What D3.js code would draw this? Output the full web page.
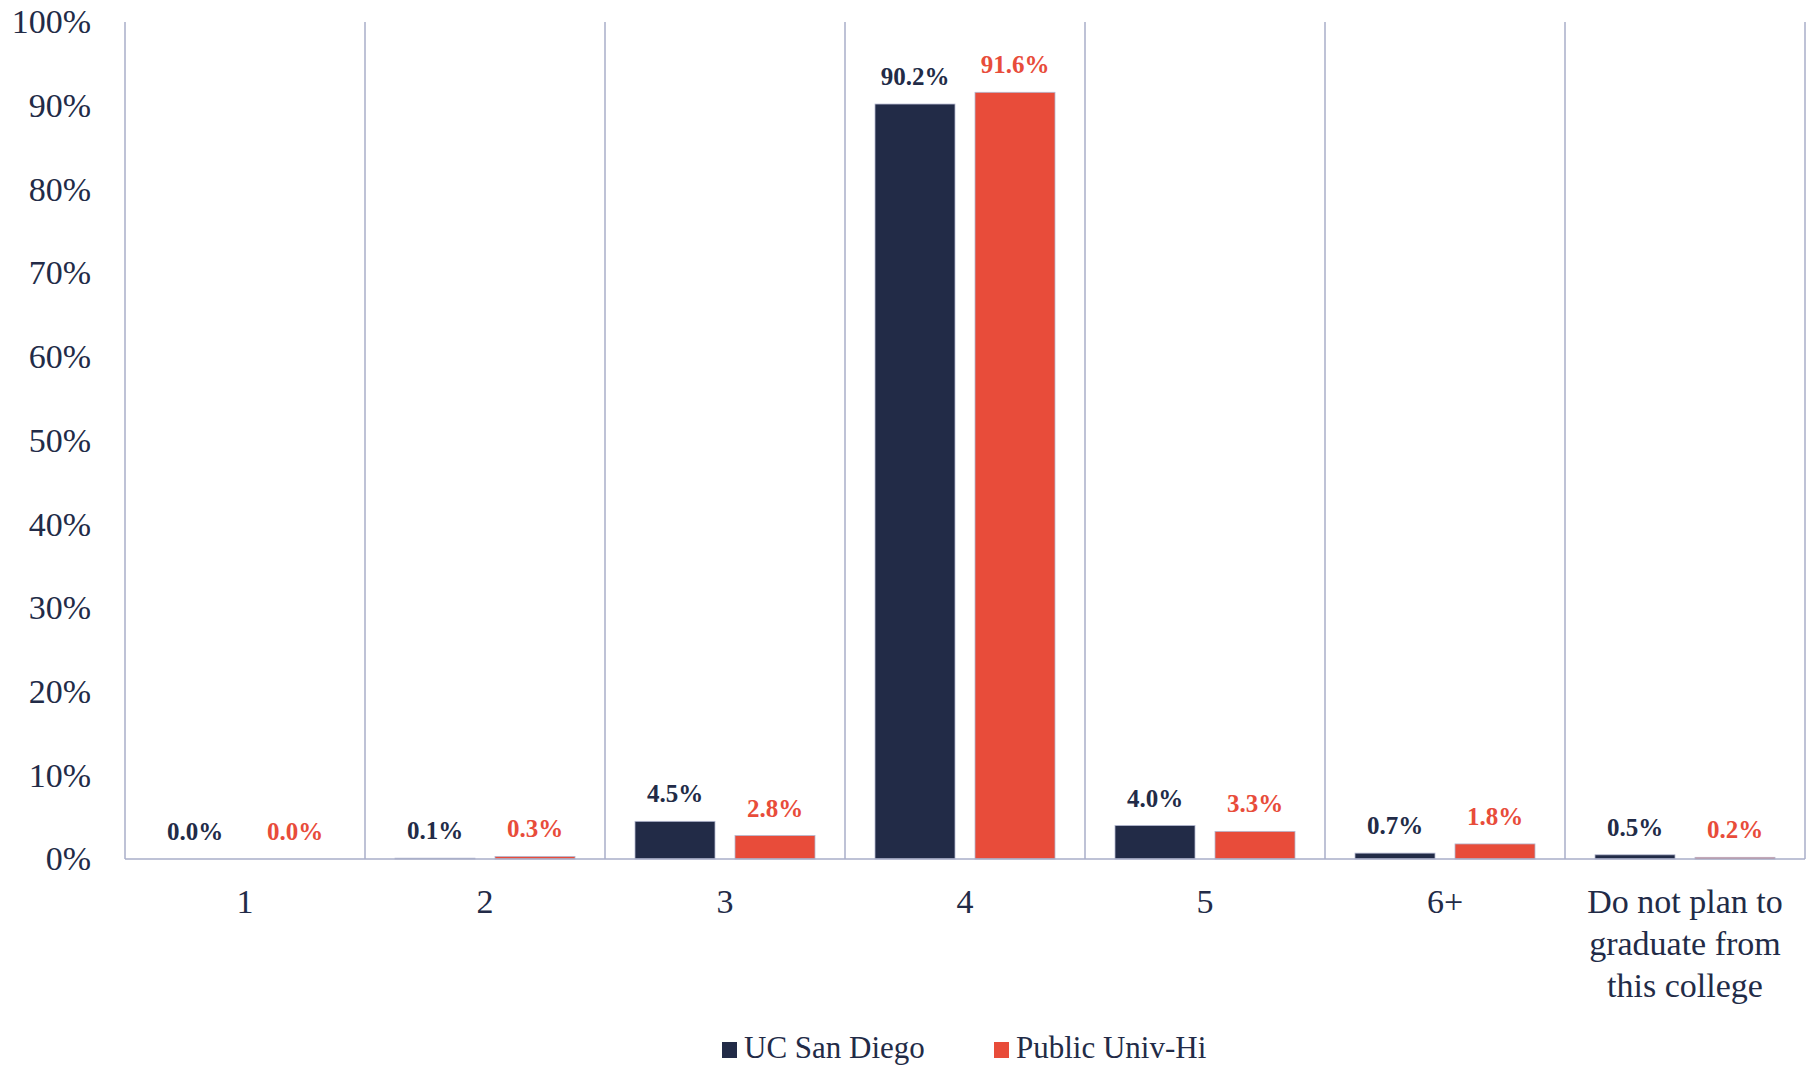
<!DOCTYPE html>
<html>
<head>
<meta charset="utf-8">
<script src="https://cdn.jsdelivr.net/npm/d3@7"></script>
<style>
  body { margin: 0; background: #fff; }
  text { font-family: "Liberation Serif", "DejaVu Serif", serif; }
</style>
</head>
<body>
<svg id="chart" width="1818" height="1067"></svg>
<script>
var categories = ['1', '2', '3', '4', '5', '6+', 'Do not plan to|graduate from|this college'];
var series = ['UC San Diego', 'Public Univ-Hi'];
var ucsd = [0.0, 0.1, 4.5, 90.2, 4.0, 0.7, 0.5];
var publicHi = [0.0, 0.3, 2.8, 91.6, 3.3, 1.8, 0.2];
var yTicks = [0, 10, 20, 30, 40, 50, 60, 70, 80, 90, 100];
var colors = ['#222b47', '#e84c3a'];

var svg = d3.select('#chart');
var plotLeft = 125, plotRight = 1805, plotTop = 22, plotBottom = 859;

var x = d3.scaleBand().domain(categories).range([plotLeft, plotRight]);
var xi = d3.scaleBand().domain(series).range([0, x.bandwidth()])
    .paddingInner(0.2).paddingOuter(0.3);
var y = d3.scaleLinear().domain([0, 100]).range([plotBottom, plotTop]);

// vertical separators
var bounds = categories.map(function(c) { return x(c); }).concat([plotRight]);
svg.append('g').selectAll('line').data(bounds).enter().append('line')
    .attr('x1', function(d) { return d; }).attr('x2', function(d) { return d; })
    .attr('y1', y(100)).attr('y2', y(0))
    .style('stroke', '#a9aec8').style('stroke-width', 1.5);

// y axis
var yAxis = svg.append('g').attr('transform', 'translate(' + plotLeft + ',0)')
    .call(d3.axisLeft(y).tickValues(yTicks).tickSize(0).tickPadding(34)
      .tickFormat(function(d) { return d + '%'; }));
yAxis.select('.domain').remove();
yAxis.selectAll('text').style('font-size', '34px').style('fill', '#222b47')
    .style('font-family', '"Liberation Serif", serif');

// bars
var rows = categories.map(function(c, i) {
  return { cat: c, vals: [ucsd[i], publicHi[i]] };
});
var groups = svg.append('g').selectAll('g').data(rows).enter().append('g')
    .attr('transform', function(d) { return 'translate(' + x(d.cat) + ',0)'; });

groups.selectAll('rect').data(function(d) {
  return d.vals.map(function(v, j) { return { s: series[j], v: v, j: j }; });
}).enter().append('rect')
    .attr('x', function(d) { return xi(d.s); })
    .attr('width', xi.bandwidth())
    .attr('y', function(d) { return y(d.v); })
    .attr('height', function(d) { return y(0) - y(d.v); })
    .style('fill', function(d) { return colors[d.j]; })
    .style('stroke', '#b4b8d0').style('stroke-width', 0.8);

groups.selectAll('text.val').data(function(d) {
  return d.vals.map(function(v, j) { return { s: series[j], v: v, j: j }; });
}).enter().append('text')
    .attr('class', 'val')
    .attr('x', function(d) { return xi(d.s) + xi.bandwidth() / 2; })
    .attr('y', function(d) { return y(d.v) - 19; })
    .attr('text-anchor', 'middle')
    .style('font-size', '25px').style('font-weight', 'bold')
    .style('fill', function(d) { return colors[d.j]; })
    .text(function(d) { return d.v.toFixed(1) + '%'; });

// baseline
svg.append('line').attr('x1', plotLeft).attr('x2', plotRight).attr('y1', y(0)).attr('y2', y(0))
    .style('stroke', '#a9aec8').style('stroke-width', 1.5);

// category labels
var cl = svg.append('g').selectAll('text').data(categories).enter().append('text')
    .attr('x', function(d) { return x(d) + x.bandwidth() / 2; })
    .attr('y', 913)
    .attr('text-anchor', 'middle')
    .style('font-size', '34px').style('fill', '#222b47');
cl.each(function(d) {
  var t = d3.select(this);
  d.split('|').forEach(function(line, k) {
    t.append('tspan').attr('x', x(d) + x.bandwidth() / 2)
      .attr('dy', k === 0 ? 0 : 42).text(line);
  });
});

// legend
var legendX = [722, 994];
var lg = svg.append('g').selectAll('g').data(series).enter().append('g')
    .attr('transform', function(d, i) { return 'translate(' + legendX[i] + ',1042)'; });
lg.append('rect').attr('width', 15).attr('height', 16)
    .style('fill', function(d, i) { return colors[i]; });
lg.append('text').attr('x', 22).attr('y', 16)
    .style('font-size', '31px').style('fill', '#222b47')
    .text(function(d) { return d; });
</script>
</body>
</html>
